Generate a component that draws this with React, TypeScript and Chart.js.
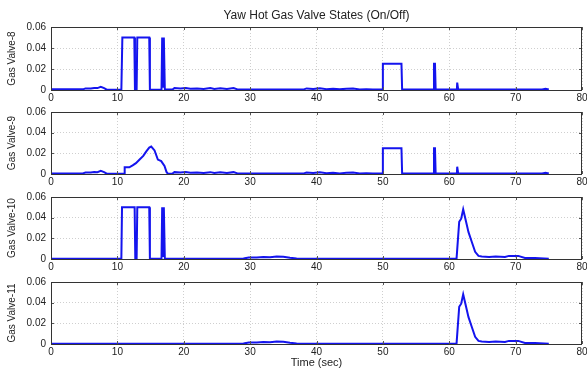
import React, { useEffect, useRef } from "react";
import { Chart, registerables } from "chart.js";

Chart.register(...registerables);

const chartTitle = "Yaw Hot Gas Valve States (On/Off)";
const xAxisTitle = "Time (sec)";
const panelLabels = ["Gas Valve-8", "Gas Valve-9", "Gas Valve-10", "Gas Valve-11"];
const xTickValues = [0, 10, 20, 30, 40, 50, 60, 70, 80];
const yTickValues = [0, 0.02, 0.04, 0.06];

// Gas Valve-8
const valve8Time = [0, 2, 4.8, 5.2, 6, 6.5, 7, 7.5, 8, 8.4, 10.6, 10.75, 12.55, 12.65, 12.9, 13.0, 14.8, 14.9, 16.65, 16.75, 16.9, 17.0, 17.15, 18.3, 18.6, 19.5, 20.3, 21, 22, 23, 24, 24.6, 25.5, 26.5, 27.5, 28.2, 38, 38.5, 39.5, 40.5, 41.5, 42.5, 43.5, 44.5, 45.5, 46.5, 47.5, 48.5, 49.9, 50.0, 52.8, 52.9, 57.6, 57.7, 57.85, 57.95, 61.15, 61.2, 61.3, 61.35, 74, 74.5, 75];
const valve8Value = [0.0006, 0.0006, 0.0006, 0.0015, 0.0015, 0.002, 0.0018, 0.003, 0.0018, 0.0003, 0.0003, 0.05, 0.05, 0, 0, 0.05, 0.05, 0.0003, 0.0003, 0.05, 0.003, 0.05, 0.0005, 0.0005, 0.0018, 0.0015, 0.002, 0.0012, 0.0015, 0.001, 0.0018, 0.001, 0.0016, 0.001, 0.0018, 0.0004, 0.0004, 0.0015, 0.001, 0.0016, 0.0008, 0.0012, 0.0006, 0.0012, 0.0015, 0.0005, 0.0008, 0.0004, 0.0004, 0.025, 0.025, 0.0004, 0.0004, 0.025, 0.025, 0.0004, 0.0004, 0.007, 0.007, 0.0004, 0.0004, 0.0012, 0.0004];

// Gas Valve-9
const valve9Time = [0, 2, 4.8, 5.2, 6, 6.5, 7, 7.5, 8, 8.4, 11.0, 11.1, 11.8, 12.3, 12.8, 13.35, 13.9, 14.36, 14.8, 15.1, 15.6, 16.1, 16.6, 17.1, 17.4, 17.6, 18.3, 18.6, 19.5, 20.3, 21, 22, 23, 24, 24.6, 25.5, 26.5, 27.5, 28.2, 38, 38.5, 39.5, 40.5, 41.5, 42.5, 43.5, 44.5, 45.5, 46.5, 47.5, 48.5, 49.9, 50.0, 52.8, 52.9, 57.6, 57.7, 57.85, 57.95, 61.15, 61.2, 61.3, 61.35, 74, 74.5, 75];
const valve9Value = [0.0006, 0.0006, 0.0006, 0.0015, 0.0015, 0.002, 0.0018, 0.003, 0.0018, 0.0003, 0.0003, 0.0065, 0.0065, 0.0084, 0.0105, 0.014, 0.0175, 0.0219, 0.0255, 0.0265, 0.0228, 0.014, 0.0125, 0.0078, 0.002, 0.0003, 0.0005, 0.0018, 0.0015, 0.002, 0.0012, 0.0015, 0.001, 0.0018, 0.001, 0.0016, 0.001, 0.0018, 0.0004, 0.0004, 0.0015, 0.001, 0.0016, 0.0008, 0.0012, 0.0006, 0.0012, 0.0015, 0.0005, 0.0008, 0.0004, 0.0004, 0.025, 0.025, 0.0004, 0.0004, 0.025, 0.025, 0.0004, 0.0004, 0.007, 0.007, 0.0004, 0.0004, 0.0012, 0.0004];

// Gas Valve-10
const valve10Time = [0, 10.6, 10.7, 12.6, 12.7, 12.9, 13.0, 14.8, 14.9, 16.65, 16.75, 16.9, 17.0, 17.15, 29, 29.8, 31, 32, 33, 34, 35, 36, 37, 38, 61.1, 61.5, 61.8, 62.1, 62.5, 62.9, 63.4, 63.9, 64.4, 64.9, 66, 67, 68.4, 69, 70.4, 71.4, 72.9, 75];
const valve10Value = [0.0003, 0.0003, 0.05, 0.05, 0, 0, 0.05, 0.05, 0.0003, 0.0003, 0.05, 0.003, 0.05, 0.0003, 0.0004, 0.0015, 0.0015, 0.002, 0.0018, 0.0025, 0.0022, 0.0012, 0.0005, 0.0003, 0.0003, 0.036, 0.039, 0.048, 0.037, 0.026, 0.0165, 0.007, 0.003, 0.0025, 0.002, 0.0025, 0.002, 0.003, 0.003, 0.001, 0.001, 0.0003];

// Gas Valve-11
const valve11Time = [0, 29, 29.8, 31, 32, 33, 34, 35, 36, 37, 38, 61.1, 61.5, 61.8, 62.1, 62.5, 62.9, 63.4, 63.9, 64.4, 64.9, 66, 67, 68.4, 69, 70.4, 71.4, 72.9, 75];
const valve11Value = [0.0003, 0.0004, 0.0015, 0.0015, 0.002, 0.0018, 0.0025, 0.0022, 0.0012, 0.0005, 0.0003, 0.0003, 0.036, 0.039, 0.048, 0.037, 0.026, 0.0165, 0.007, 0.003, 0.0025, 0.002, 0.0025, 0.002, 0.003, 0.003, 0.001, 0.001, 0.0003];

const seriesTimes = [valve8Time, valve9Time, valve10Time, valve11Time];
const seriesValues = [valve8Value, valve9Value, valve10Value, valve11Value];

// layout (pixels)
const PLOT_TOPS = [27, 111, 196, 281];
const PLOT_H = 63;
const AXIS_W = 51;
const CANVAS_W = 600;
const PLOT_RIGHT = 582;
const FONT = "'Liberation Sans', Arial, Helvetica, sans-serif";

const boxPlugin = {
  id: "matlabBox",
  afterDraw(chart: any) {
    const { ctx, chartArea: a, scales } = chart;
    ctx.save();
    ctx.strokeStyle = "#555";
    ctx.lineWidth = 1;
    ctx.beginPath();
    const xs = scales.x;
    xs.ticks.forEach((t: any) => {
      const px = Math.round(xs.getPixelForValue(t.value)) + 0.5;
      ctx.moveTo(px, a.top);
      ctx.lineTo(px, a.top + 3);
      ctx.moveTo(px, a.bottom);
      ctx.lineTo(px, a.bottom - 3);
    });
    const ys = scales.y;
    ys.ticks.forEach((t: any) => {
      const py = Math.round(ys.getPixelForValue(t.value)) + 0.5;
      ctx.moveTo(a.left, py);
      ctx.lineTo(a.left + 3, py);
      ctx.moveTo(a.right, py);
      ctx.lineTo(a.right - 3, py);
    });
    ctx.stroke();
    ctx.strokeStyle = "#333";
    ctx.strokeRect(Math.round(a.left) + 0.5, Math.round(a.top) + 0.5, Math.round(a.right - a.left) - 1, Math.round(a.bottom - a.top));
    ctx.restore();
  },
};

function Panel({ index }: { index: number }) {
  const ref = useRef<HTMLCanvasElement | null>(null);
  const isFirst = index === 0;
  const isLast = index === 3;
  const padTop = isFirst ? 0 : 10;
  const titleH = isFirst ? 27 : 0;
  const xAxisH = isLast ? 26 : 14;
  const canvasTop = isFirst ? 0 : PLOT_TOPS[index] - padTop;
  const canvasH = padTop + titleH + PLOT_H + xAxisH;

  useEffect(() => {
    if (!ref.current) return;
    const times = seriesTimes[index];
    const values = seriesValues[index];
    const chart = new Chart(ref.current, {
      type: "line",
      data: {
        datasets: [
          {
            data: times.map((t, i) => ({ x: t, y: values[i] })),
            borderColor: "#1414ee",
            borderWidth: 2,
            pointRadius: 0,
            tension: 0,
            fill: false,
          },
        ],
      },
      options: {
        responsive: false,
        animation: false,
        events: [],
        layout: { padding: { top: padTop, right: CANVAS_W - PLOT_RIGHT, bottom: 0, left: 0 } },
        plugins: {
          legend: { display: false },
          tooltip: { enabled: false },
          title: {
            display: isFirst,
            text: chartTitle,
            fullSize: false,
            color: "#222",
            font: { family: FONT, size: 12, weight: "normal" },
            padding: { top: 8, bottom: 4.6 },
          },
        },
        scales: {
          x: {
            type: "linear",
            min: 0,
            max: 80,
            afterBuildTicks: (s: any) => {
              s.ticks = xTickValues.map((v) => ({ value: v }));
            },
            afterFit: (s: any) => {
              s.height = xAxisH;
            },
            ticks: {
              color: "#222",
              font: { family: FONT, size: 10 },
              padding: 2,
              maxRotation: 0,
              autoSkip: false,
            },
            grid: { color: "#cfcfcf", lineWidth: 1, drawTicks: false },
            border: { display: false, dash: [1, 2] },
            title: {
              display: isLast,
              text: xAxisTitle,
              color: "#222",
              font: { family: FONT, size: 11 },
              padding: { top: 0, bottom: 0 },
            },
          },
          y: {
            type: "linear",
            min: 0,
            max: 0.06,
            afterBuildTicks: (s: any) => {
              s.ticks = yTickValues.map((v) => ({ value: v }));
            },
            afterFit: (s: any) => {
              s.width = AXIS_W;
            },
            ticks: {
              color: "#222",
              font: { family: FONT, size: 10 },
              padding: 5,
              callback: (v: any) => String(Number(v).toFixed(2)).replace(/^0\.00$/, "0"),
            },
            grid: { color: "#cfcfcf", lineWidth: 1, drawTicks: false },
            border: { display: false, dash: [1, 2] },
            title: {
              display: true,
              text: panelLabels[index],
              color: "#222",
              font: { family: FONT, size: 10 },
              padding: { top: 6, bottom: 0 },
            },
          },
        },
      },
      plugins: [boxPlugin],
    } as any);
    return () => chart.destroy();
  }, [index]);

  return (
    <canvas
      ref={ref}
      width={CANVAS_W}
      height={canvasH}
      style={{ position: "absolute", left: 0, top: canvasTop, width: CANVAS_W, height: canvasH }}
    />
  );
}

export default function App() {
  return (
    <div
      style={{
        position: "absolute",
        left: 0,
        top: 0,
        width: 587,
        height: 370,
        overflow: "hidden",
        background: "#fff",
      }}
    >
      {[0, 1, 2, 3].map((i) => (
        <Panel key={i} index={i} />
      ))}
    </div>
  );
}
